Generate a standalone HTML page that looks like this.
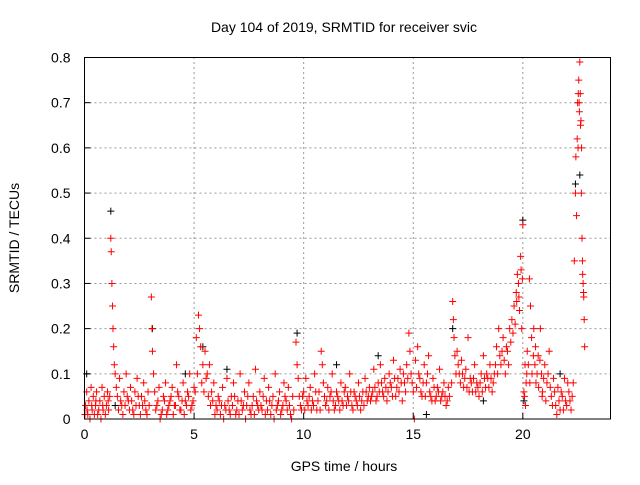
<!DOCTYPE html>
<html><head><meta charset="utf-8"><style>
body{margin:0;background:#fff;}
svg text{font-family:"Liberation Sans",sans-serif;font-size:14px;fill:#000;}
</style></head><body>
<svg id="chart" width="640" height="480" xmlns="http://www.w3.org/2000/svg">
<text x="344" y="32" text-anchor="middle">Day 104 of 2019, SRMTID for receiver svic</text>
<text x="344" y="471" text-anchor="middle">GPS time / hours</text>
<text transform="translate(19,238) rotate(-90)" text-anchor="middle">SRMTID / TECUs</text>
<g id="grid"></g><g id="marks"></g>
<rect x="84.5" y="57.5" width="526" height="361.5" fill="none" stroke="#000"/>
</svg>
<script>
const xTicks=[0,5,10,15,20];
const yTicks=[0,0.1,0.2,0.3,0.4,0.5,0.6,0.7,0.8];
const redPts=[[0.05,0.03],[0.1,0.06],[0.15,0.01],[0.2,0.04],[0.3,0.07],[0.35,0.02],[0.4,0.05],[0.5,0.03],[0.55,0.06],[0.6,0.01],[0.7,0.04],[0.8,0.07],[0.85,0.02],[0.9,0.05],[1.0,0.03],[1.05,0.06],[1.1,0.02],
[1.2,0.40],[1.22,0.37],[1.25,0.3],[1.28,0.25],[1.3,0.2],[1.33,0.16],[1.36,0.12],[1.4,0.1],[1.45,0.07],[1.5,0.05],[1.6,0.09],[1.7,0.03],[1.8,0.06],[1.9,0.1],[2.0,0.04],[2.1,0.07],[2.2,0.02],[2.3,0.06],[2.4,0.09],[2.5,0.03],[2.6,0.05],[2.7,0.08],[2.8,0.02],[2.9,0.06],
[3.05,0.27],[3.08,0.2],[3.1,0.15],[3.15,0.1],[3.2,0.06],[3.3,0.03],[3.4,0.07],[3.5,0.01],[3.6,0.05],[3.7,0.08],[3.8,0.02],[3.9,0.04],[4.0,0.07],[4.1,0.03],[4.2,0.12],[4.3,0.05],[4.4,0.02],[4.5,0.08],[4.6,0.04],[4.7,0.06],[4.8,0.1],[4.9,0.03],[5.0,0.07],
[5.1,0.18],[5.2,0.23],[5.25,0.2],[5.3,0.16],[5.4,0.12],[5.5,0.15],[5.6,0.1],[5.7,0.12],[5.8,0.06],[5.9,0.08],[6.0,0.03],[6.1,0.05],[6.2,0.01],[6.3,0.07],[6.4,0.03],[6.5,0.09],[6.6,0.02],[6.7,0.05],[6.8,0.08],[6.9,0.01],[7.0,0.04],[7.1,0.1],[7.2,0.02],[7.3,0.06],[7.4,0.03],[7.5,0.08],[7.6,0.01],[7.7,0.05],[7.8,0.11],[7.9,0.03],[8.0,0.06],[8.1,0.02],[8.2,0.09],[8.3,0.04],[8.4,0.07],[8.5,0.01],[8.6,0.05],[8.7,0.1],[8.8,0.03],[8.9,0.06],[9.0,0.02],[9.1,0.08],[9.2,0.04],[9.3,0.07],[9.4,0.01],[9.5,0.05],
[9.65,0.17],[9.7,0.12],[9.75,0.09],[9.8,0.05],[9.9,0.02],[10.0,0.06],[10.1,0.09],[10.2,0.03],[10.3,0.07],[10.4,0.04],[10.5,0.1],[10.6,0.02],[10.7,0.06],[10.8,0.15],[10.85,0.12],[10.9,0.08],[11.0,0.03],[11.1,0.07],[11.2,0.05],[11.3,0.1],[11.4,0.02],[11.5,0.06],[11.6,0.04],[11.7,0.08],[11.8,0.03],[11.9,0.07],[12.0,0.05],[12.1,0.1],[12.2,0.03],[12.3,0.06],[12.4,0.04],[12.5,0.08],[12.6,0.02],[12.7,0.06],[12.8,0.09],[12.9,0.04],
[13.0,0.07],[13.1,0.05],[13.2,0.11],[13.3,0.04],[13.4,0.08],[13.5,0.12],[13.6,0.06],[13.7,0.09],[13.8,0.04],[13.9,0.1],[14.0,0.07],[14.1,0.13],[14.2,0.05],[14.3,0.09],[14.4,0.11],[14.5,0.04],[14.6,0.08],[14.7,0.12],[14.8,0.19],[14.85,0.15],[14.9,0.1],[15.0,0.06],[15.1,0.13],[15.2,0.16],[15.3,0.09],[15.4,0.05],[15.5,0.12],[15.6,0.08],[15.7,0.14],[15.8,0.05],[15.9,0.09],[16.0,0.04],[16.1,0.07],[16.2,0.11],[16.3,0.05],[16.4,0.08],[16.5,0.03],[16.6,0.07],
[16.8,0.26],[16.83,0.22],[16.86,0.18],[16.9,0.14],[17.0,0.15],[17.1,0.1],[17.2,0.13],[17.3,0.07],[17.4,0.11],[17.5,0.18],[17.6,0.09],[17.7,0.06],[17.8,0.12],[17.9,0.08],[18.0,0.05],[18.1,0.1],[18.2,0.14],[18.3,0.07],[18.4,0.09],[18.5,0.12],[18.6,0.06],[18.7,0.1],[18.8,0.16],[18.9,0.2],[19.0,0.12],[19.1,0.18],[19.2,0.1],[19.3,0.15],[19.4,0.2],[19.5,0.22],[19.6,0.25],[19.7,0.28],[19.75,0.32],[19.8,0.3],[19.85,0.24],[19.9,0.36],[19.95,0.2],[20.0,0.43],
[20.05,0.06],[20.1,0.12],[20.15,0.08],[20.2,0.15],[20.3,0.31],[20.35,0.25],[20.4,0.18],[20.5,0.2],[20.55,0.12],[20.6,0.08],[20.7,0.14],[20.8,0.2],[20.85,0.1],[20.9,0.06],[21.0,0.12],[21.1,0.08],[21.2,0.15],[21.3,0.05],[21.4,0.09],[21.5,0.03],[21.6,0.07],[21.7,0.02],[21.8,0.05],[21.9,0.09],[22.0,0.03],[22.1,0.06],[22.2,0.02],[22.3,0.08],
[22.35,0.35],[22.4,0.5],[22.45,0.45],[22.5,0.7],[22.52,0.6],[22.55,0.75],[22.58,0.68],[22.6,0.79],[22.62,0.72],[22.65,0.66],[22.68,0.6],[22.7,0.4],[22.72,0.35],[22.75,0.3],[22.78,0.27],[22.8,0.22],[22.82,0.16]];
const redLow=[[0.02,0.01],[0.12,0.02],[0.25,0],[0.33,0.03],[0.45,0.01],[0.52,0.04],[0.65,0.02],[0.75,0],[0.83,0.03],[0.95,0.01],[1.08,0.04],[1.15,0.05],
[1.55,0.02],[1.65,0.04],[1.75,0.01],[1.85,0.03],[1.95,0.05],[2.05,0.02],[2.15,0.04],[2.25,0.01],[2.35,0.03],[2.45,0.05],[2.55,0.01],[2.65,0.03],[2.75,0.04],[2.85,0.01],[2.95,0.03],[3.25,0.02],[3.35,0.04],[3.45,0],[3.55,0.02],[3.65,0.04],[3.75,0.01],[3.85,0.03],[3.95,0.05],[4.05,0.01],[4.15,0.03],[4.25,0.06],[4.35,0.02],[4.45,0.04],[4.55,0.01],[4.65,0.03],[4.75,0.05],[4.85,0.02],[4.95,0.04],[5.05,0.06],[5.15,0.1],[5.35,0.08],[5.45,0.06],[5.55,0.09],[5.65,0.05],[5.75,0.03],[5.85,0.04],[5.95,0.01],
[6.05,0.02],[6.15,0.04],[6.25,0.03],[6.35,0],[6.45,0.02],[6.55,0.04],[6.65,0.01],[6.75,0.03],[6.85,0.05],[6.95,0.02],[7.05,0.01],[7.15,0.04],[7.25,0.03],[7.35,0],[7.45,0.05],[7.55,0.02],[7.65,0.03],[7.75,0.01],[7.85,0.04],[7.95,0.02],[8.05,0.03],[8.15,0.05],[8.25,0.01],[8.35,0.02],[8.45,0.04],[8.55,0.03],[8.65,0],[8.75,0.02],[8.85,0.04],[8.95,0.01],[9.05,0.03],[9.15,0.05],[9.25,0.02],[9.35,0.03],[9.45,0],[9.55,0.02],[9.85,0.03],[9.95,0.05],
[10.05,0.02],[10.15,0.04],[10.25,0.05],[10.35,0.02],[10.45,0.03],[10.55,0.06],[10.65,0.04],[10.75,0.02],[10.95,0.05],[11.05,0.04],[11.15,0.02],[11.25,0.06],[11.35,0.04],[11.45,0.03],[11.55,0.05],[11.65,0.02],[11.75,0.04],[11.85,0.06],[11.95,0.03],[12.05,0.04],[12.15,0.06],[12.25,0.02],[12.35,0.05],[12.45,0.03],[12.55,0.05],[12.65,0.04],[12.75,0.03],[12.85,0.06],[12.95,0.05],
[13.05,0.04],[13.15,0.06],[13.25,0.07],[13.35,0.05],[13.45,0.06],[13.55,0.08],[13.65,0.05],[13.75,0.07],[13.85,0.06],[13.95,0.08],[14.05,0.05],[14.15,0.09],[14.25,0.07],[14.35,0.06],[14.45,0.08],[14.55,0.1],[14.65,0.06],[14.75,0.09],[14.95,0.08],[15.05,0],[15.15,0.07],[15.25,0.1],[15.35,0.06],[15.45,0.08],[15.55,0.05],[15.65,0.1],[15.75,0.06],[15.85,0.04],[15.95,0.07],[16.05,0.05],[16.15,0.06],[16.25,0.04],[16.35,0.06],[16.45,0.05],[16.55,0.04],[16.65,0.05],[16.75,0.08],
[16.95,0.1],[17.05,0.12],[17.15,0.08],[17.25,0.1],[17.35,0.09],[17.45,0.07],[17.55,0.06],[17.65,0.08],[17.75,0.09],[17.85,0.06],[17.95,0.07],[18.05,0.08],[18.15,0.06],[18.25,0.09],[18.35,0.1],[18.45,0.07],[18.55,0.09],[18.65,0.08],[18.75,0.12],[18.85,0.1],[18.95,0.14],[19.05,0.15],[19.15,0.13],[19.25,0.16],[19.35,0.12],[19.45,0.17],[19.55,0.19],[19.65,0.21],[19.72,0.26],[19.82,0.27],[19.92,0.33],[19.98,0.31],
[20.08,0.05],[20.12,0.03],[20.18,0.1],[20.25,0.12],[20.32,0.08],[20.42,0.1],[20.48,0.14],[20.58,0.16],[20.65,0.1],[20.72,0.07],[20.78,0.13],[20.88,0.05],[20.95,0.09],[21.05,0.04],[21.15,0.1],[21.25,0.07],[21.35,0.03],[21.45,0.06],[21.55,0.01],[21.65,0.04],[21.75,0.06],[21.85,0.02],[21.95,0.04],[22.05,0.08],[22.15,0.04],[22.25,0.05],
[22.42,0.58],[22.48,0.62],[22.53,0.72],[22.57,0.7],[22.63,0.65],[22.67,0.5],[22.73,0.32],[22.77,0.28]];
const blackPts=[[0.1,0.1],[1.2,0.46],[1.4,0.03],[3.1,0.2],[4.6,0.1],[5.4,0.16],[6.5,0.11],[9.7,0.19],[11.5,0.12],[13.4,0.14],[15.6,0.01],[16.8,0.2],[18.2,0.04],[20.0,0.44],[20.05,0.04],[21.7,0.1],[22.4,0.52],[22.6,0.54]];
const X0=84.5,X1=610.5,Y0=419,Y1=57.5;
const xs=v=>X0+(v/24)*(X1-X0), ys=v=>Y0-(v/0.8)*(Y0-Y1);
const NS="http://www.w3.org/2000/svg";
const svg=document.getElementById('chart'),grid=document.getElementById('grid'),marks=document.getElementById('marks');
function mk(tag,attrs,parent){const e=document.createElementNS(NS,tag);for(const k in attrs)e.setAttribute(k,attrs[k]);parent.appendChild(e);return e;}
xTicks.forEach(t=>{const x=xs(t);
 if(t>0){const g=mk('line',{x1:x,x2:x,y1:Y0,y2:Y1,stroke:'#999','stroke-dasharray':'2,3'},grid);
 
 }
 const tk=mk('line',{x1:x,x2:x,y1:Y0,y2:Y0-6,stroke:'#000'},grid);
 
 
 const l=mk('text',{x:x,y:Y0+20,'text-anchor':'middle'},svg);l.textContent=t;
 
 });
yTicks.forEach(t=>{const y=ys(t);
 if(t>0&&t<0.8){const g=mk('line',{x1:X0,x2:X1,y1:y,y2:y,stroke:'#999','stroke-dasharray':'2,3'},grid);
 
 }
 const tk=mk('line',{x1:X0,x2:X0+6,y1:y,y2:y,stroke:'#000'},grid);
 
 
 const l=mk('text',{x:X0-14,y:y+5,'text-anchor':'end'},svg);l.textContent=t===0?'0':t.toFixed(1);
 
 });
function plus(p,color,name){const x=xs(p[0]),y=ys(p[1]);
 const e=mk('path',{d:`M${x-3.5},${y}h7M${x},${y-3.5}v7`,stroke:color,'stroke-width':1,fill:'none'},marks);
 
 }
blackPts.forEach(p=>plus(p,'#000','black-point'));
redLow.forEach(p=>plus(p,'#f00','red-point'));
redPts.forEach(p=>plus(p,'#f00','red-point'));
</script>
</body></html>
